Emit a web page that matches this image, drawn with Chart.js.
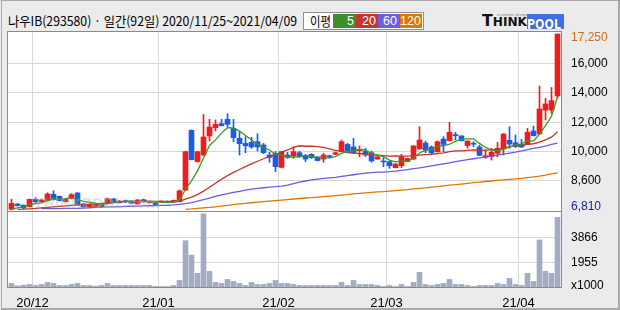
<!DOCTYPE html>
<html><head><meta charset="utf-8">
<script src="https://cdn.jsdelivr.net/npm/chart.js@4.4.1/dist/chart.umd.min.js"></script>
<style>
html,body{margin:0;padding:0;}
body{width:620px;height:310px;overflow:hidden;background:#ebebeb;position:relative;font-family:'Noto Sans CJK KR','Liberation Sans',sans-serif;}
#frame{position:absolute;left:1px;top:0;width:619px;height:310px;box-sizing:border-box;border-style:solid;border-color:#a9a9a9;border-width:1px 2px 2px 1px;pointer-events:none;z-index:5}
#title{position:absolute;left:8px;top:12px;font-size:13px;line-height:17px;color:#000;white-space:nowrap;transform-origin:0 0;}
#legend{position:absolute;left:303px;top:12px;width:121px;height:18px;box-sizing:border-box;border:1px solid #8f8f8f;background:#fff;}
#legend .lbl{position:absolute;left:6px;top:-1px;font-size:13px;line-height:18px;color:#000;white-space:nowrap;transform-origin:0 0;}
#legend .box{position:absolute;top:1px;height:14px;color:#fff;font-family:'Liberation Sans',sans-serif;font-size:12.5px;line-height:15px;text-align:right;box-sizing:border-box;padding-right:3px;}
#logo{position:absolute;left:482px;top:13px;height:16px;white-space:nowrap;font-family:'DejaVu Sans',sans-serif;font-weight:bold;}
#think{display:inline-block;color:#111;font-size:15px;line-height:16px;transform-origin:0 0;vertical-align:top;}
#think small{font-size:11.5px;}
#pool{position:absolute;left:45px;top:1px;width:37px;height:15px;background:#3d70e6;}
#pooltxt{display:inline-block;color:#fff;font-size:14px;line-height:15px;transform-origin:0 0;text-shadow:0 0 1px #123;}
#tiny{position:absolute;left:497px;top:12px;font-size:4px;color:#888;font-family:'Liberation Sans',sans-serif;}
#wm{position:absolute;left:34px;top:196px;font-family:'DejaVu Sans',sans-serif;font-weight:bold;font-size:14px;line-height:15px;color:rgba(175,175,175,0.35);white-space:nowrap;transform-origin:0 0;pointer-events:none;z-index:3}
canvas{position:absolute;left:0;top:0;z-index:2}
</style>
</head>
<body>
<div id="title">나우IB(293580) · 일간(92일) 2020/11/25~2021/04/09</div>
<div id="legend">
  <span class="lbl" id="lgLbl">이평</span>
  <div class="box" id="lg0" style="left:29px;width:24px;background:#3d8e2c;"></div>
  <div class="box" id="lg1" style="left:52px;width:23px;background:#c8342b;"></div>
  <div class="box" id="lg2" style="left:74px;width:22px;background:#6b5ee0;"></div>
  <div class="box" id="lg3" style="left:96px;width:22px;background:#dc7600;"></div>
</div>
<div id="tiny">economic design</div>
<div id="logo"><span id="think">T<small>HINK</small></span><div id="pool"><span id="pooltxt">POOL</span></div></div>
<div id="wm">THINKPOOL.com</div>
<canvas id="c" width="620" height="310"></canvas>
<div id="frame"></div>
<script>
// ---------- data ----------
const dates = [
 '2020/11/25','2020/11/26','2020/11/27','2020/11/30',
 '2020/12/01','2020/12/02','2020/12/03','2020/12/04','2020/12/07','2020/12/08','2020/12/09','2020/12/10','2020/12/11',
 '2020/12/14','2020/12/15','2020/12/16','2020/12/17','2020/12/18','2020/12/21','2020/12/22','2020/12/23','2020/12/24',
 '2020/12/28','2020/12/29','2020/12/30',
 '2021/01/04','2021/01/05','2021/01/06','2021/01/07','2021/01/08','2021/01/11','2021/01/12','2021/01/13','2021/01/14',
 '2021/01/15','2021/01/18','2021/01/19','2021/01/20','2021/01/21','2021/01/22','2021/01/25','2021/01/26','2021/01/27',
 '2021/01/28','2021/01/29',
 '2021/02/01','2021/02/02','2021/02/03','2021/02/04','2021/02/05','2021/02/08','2021/02/09','2021/02/10','2021/02/15',
 '2021/02/16','2021/02/17','2021/02/18','2021/02/19','2021/02/22','2021/02/23','2021/02/24','2021/02/25','2021/02/26',
 '2021/03/02','2021/03/03','2021/03/04','2021/03/05','2021/03/08','2021/03/09','2021/03/10','2021/03/11','2021/03/12',
 '2021/03/15','2021/03/16','2021/03/17','2021/03/18','2021/03/19','2021/03/22','2021/03/23','2021/03/24','2021/03/25',
 '2021/03/26','2021/03/29','2021/03/30','2021/03/31',
 '2021/04/01','2021/04/02','2021/04/05','2021/04/06','2021/04/07','2021/04/08','2021/04/09'
];
const openP = [6850,7160,7100,7000,7440,7300,7360,7740,7620,7300,7480,7820,7170,6990,6970,7010,7210,7460,7240,7330,
 7340,7170,7420,7240,7300,7280,7320,7280,7300,7990,11540,9680,10070,11200,11690,11930,12190,11650,11060,10760,
 10820,10860,10670,10070,10170,9340,10070,10010,10210,10030,10110,9950,9830,10010,10110,10270,10700,10550,10330,10290,
 10210,9830,9690,9680,9320,9440,9680,9830,10430,10780,10550,10270,11020,10920,11260,11200,10630,10740,10550,9940,
 9970,10170,10430,10940,10800,10700,10720,11500,11320,12740,12740,13570];
const highP = [7450,7200,7110,7460,7540,7450,7830,7950,7640,7480,7780,7840,7200,7150,7170,7190,7520,7500,7370,7400,
 7360,7440,7460,7340,7320,7340,7340,7400,7990,10300,11560,10300,12480,12190,12150,12190,12520,12190,11460,11160,
 11120,11340,10760,10230,10270,10300,10230,10560,10290,10110,10150,9970,10170,10070,10250,10960,10760,11060,10610,10470,
 10310,9990,9910,9700,9560,10110,9890,10630,11750,10900,10610,10900,11160,12010,11420,11220,10920,10860,10660,10370,
 10470,10820,11340,11750,11260,11000,11650,11790,14160,13430,14080,17250];
const lowP = [6810,7040,6860,6990,7250,7280,7340,7400,7340,7280,7460,7080,6970,6960,6950,6990,7190,7280,7220,7240,
 7190,7150,7280,7220,7090,7260,7260,7260,7280,7950,9780,9650,10050,10900,11500,11790,11750,10860,10070,10210,
 10470,10310,10150,9640,9080,9300,9870,9870,9930,9680,9870,9720,9640,9890,10090,10250,10290,10150,9970,9980,
 9640,9810,9380,9280,9300,9320,9660,9800,10410,10210,10150,10250,10270,10900,10960,10900,10470,10570,10030,9870,
 9770,9970,10070,10470,10510,10510,10700,11200,11300,12150,12540,13430];
const closeP = [7200,7070,6930,7440,7300,7400,7760,7440,7360,7440,7720,7110,6990,7130,7150,7170,7480,7300,7340,7300,
 7210,7400,7300,7320,7110,7320,7280,7380,7950,10270,9800,10270,11140,11730,11890,11810,11890,11100,10740,10620,
 10550,10550,10210,9930,9380,10270,9930,10270,9970,9830,9910,9740,10070,9970,10210,10860,10310,10210,10410,10070,
 9720,9970,9660,9440,9540,9970,9870,10610,10960,10370,10190,10860,10700,11420,11220,10920,10900,10710,10050,10030,
 10230,10470,11320,10720,10570,10550,11420,11220,12800,13100,13300,17250];
// volume, in thousands of shares
const volume = [347,167,218,270,193,270,424,347,193,193,270,347,193,193,141,193,347,193,193,193,
 193,193,193,193,116,116,116,193,578,3604,2503,1117,5660,1270,424,347,655,500,347,193,
 424,270,270,347,578,347,347,270,193,193,193,193,193,193,193,424,193,578,270,270,
 270,193,116,193,116,270,116,424,1193,270,193,270,347,655,270,270,193,116,193,193,
 193,347,270,732,270,193,1117,500,3658,1270,1117,5378];
const ma5 = [6850,6930,7000,7120,7190,7230,7370,7470,7450,7480,7540,7410,7320,7280,7220,7110,7180,7250,7290,7320,
 7330,7310,7310,7310,7270,7290,7270,7280,7410,8040,8540,9130,9890,10640,10970,11370,11690,11680,11490,11230,
 10980,10710,10530,10370,10120,10070,9940,9960,9960,10050,9980,9940,9900,9900,9980,10170,10280,10310,10400,10370,
 10140,10080,9970,9770,9670,9720,9700,9890,10190,10360,10400,10600,10620,10710,10880,11020,11030,11030,10760,10520,
 10380,10300,10420,10550,10660,10730,10920,10900,11310,11820,12370,13530];
const ma20 = [null,6850,6860,6880,6900,6930,6960,6990,7020,7050,7080,7110,7130,7160,7180,7200,7230,7250,7270,7300,
 7300,7320,7340,7330,7320,7320,7290,7290,7320,7460,7570,7720,7930,8160,8400,8630,8850,9040,9210,9380,
 9540,9700,9850,9980,10090,10240,10370,10520,10620,10590,10600,10570,10520,10430,10350,10300,10220,10180,10160,10130,
 10090,10060,10040,10010,10020,10000,10000,10020,10070,10090,10110,10160,10200,10270,10320,10320,10350,10380,10360,10360,
 10380,10410,10490,10550,10610,10630,10710,10740,10830,10970,11130,11450];
const ma60 = [null,null,null,null,null,6890,6890,6890,6890,6900,6900,6900,6920,6940,6960,6980,6990,7000,7010,7020,
 7030,7040,7050,7060,7070,7080,7090,7110,7140,7190,7250,7330,7420,7510,7610,7700,7780,7860,7920,7990,
 8050,8090,8130,8160,8190,8230,8290,8370,8460,8530,8590,8640,8680,8720,8750,8800,8850,8900,8950,9000,
 9030,9050,9060,9080,9110,9160,9210,9260,9310,9370,9430,9490,9550,9610,9680,9740,9800,9850,9900,9950,
 10000,10060,10120,10180,10240,10310,10390,10460,10530,10600,10700,10770];
const ma120 = [null,null,null,null,null,null,null,null,null,null,null,null,null,null,null,null,null,null,null,null,
 null,null,null,null,null,null,null,null,null,6850,6870,6900,6930,6960,7000,7040,7080,7130,7170,7200,
 7240,7280,7310,7340,7370,7400,7430,7460,7490,7520,7540,7570,7600,7630,7660,7690,7720,7760,7790,7820,
 7850,7880,7900,7930,7960,7990,8020,8060,8090,8120,8160,8200,8240,8280,8310,8350,8390,8430,8460,8500,
 8530,8570,8600,8630,8660,8690,8730,8770,8820,8880,8950,9010];
const maPeriods = ['5','20','60','120'];
const monthLabels = ['20/12','21/01','21/02','21/03','21/04'];
// price axis: grid values and the labels printed beside them
const priceTickValues = [6988,8548,10268,12012,13768,15512,17013];
const priceTickLabels = ['6,810','8,600','10,000','12,000','14,000','16,000','17,250'];
const volTickValues = [175,1955,3866];
const volTickLabels = ['x1000','1955','3866'];

// ---------- styles ----------
const UP = '#f01c1c', DOWN = '#1b5be6', VOLC = '#a3acc3', GRID = '#d7d7d7', FRAME = '#8a8a8a';
const maColors = ['#3a9a22','#c0342a','#6a5be0','#e07400'];
const F = "'Liberation Sans', Arial, sans-serif";

function fitW(el, w){ const r = el.getBoundingClientRect().width; if (r > 0) el.style.transform = 'scaleX(' + (w / r) + ')'; }
maPeriods.forEach((p, k) => { document.getElementById('lg' + k).textContent = p; });
fitW(document.getElementById('title'), 289);
fitW(document.getElementById('lgLbl'), 21);
fitW(document.getElementById('think'), 45);
fitW(document.getElementById('pooltxt'), 34);
fitW(document.getElementById('wm'), 126);

const monthStarts = [];
for (let i = 1; i < dates.length; i++) if (dates[i].slice(0, 7) !== dates[i - 1].slice(0, 7)) monthStarts.push(i);

const candleColor = dates.map((d, i) => closeP[i] >= openP[i] ? UP : DOWN);

const framePlugin = {
  id: 'frame',
  beforeDraw(chart) {
    const {ctx, chartArea: a} = chart;
    ctx.save(); ctx.fillStyle = '#ffffff';
    ctx.fillRect(a.left, a.top, a.right - a.left, a.bottom - a.top); ctx.restore();
  },
  afterDraw(chart) {
    const {ctx, chartArea: a, scales} = chart;
    const mid = scales.y.bottom;
    ctx.save(); ctx.strokeStyle = FRAME; ctx.lineWidth = 1;
    ctx.strokeRect(a.left + 0.5, a.top - 0.5, a.right - a.left - 1, mid - a.top);
    ctx.strokeRect(a.left + 0.5, mid - 0.5, a.right - a.left - 1, a.bottom - mid);
    ctx.restore();
  }
};

const maSets = [ma5, ma20, ma60, ma120].map((arr, k) => ({
  type: 'line', label: 'MA' + maPeriods[k], yAxisID: 'y', order: 0,
  data: arr.map((v, i) => ({x: i, y: v})),
  borderColor: maColors[k], borderWidth: 1.3, pointRadius: 0, tension: 0, spanGaps: false
}));

new Chart(document.getElementById('c'), {
  type: 'bar',
  data: {
    datasets: [
      ...maSets,
      { label: 'body', yAxisID: 'y', order: 2, grouped: false, barThickness: 5, minBarLength: 1,
        data: dates.map((d, i) => ({x: i, y: [openP[i], closeP[i]]})), backgroundColor: candleColor },
      { label: 'wick', yAxisID: 'y', order: 3, grouped: false, barThickness: 1, minBarLength: 1,
        data: dates.map((d, i) => ({x: i, y: [lowP[i], highP[i]]})), backgroundColor: candleColor },
      { label: 'volume', yAxisID: 'yv', order: 2, grouped: false, barThickness: 5,
        data: dates.map((d, i) => ({x: i, y: volume[i]})), backgroundColor: VOLC }
    ]
  },
  options: {
    responsive: false, animation: false, devicePixelRatio: 1, events: [],
    layout: { padding: { left: 7, top: 32, right: 0, bottom: 0 } },
    plugins: { legend: { display: false }, tooltip: { enabled: false } },
    scales: {
      x: {
        type: 'linear', min: -0.75, max: 91.75, offset: false,
        afterBuildTicks: s => { s.ticks = monthStarts.map(i => ({value: i - 0.5})); },
        afterFit: s => { s.height = 22; },
        grid: { offset: false, color: GRID, drawTicks: false },
        border: { display: false },
        ticks: { autoSkip: false, maxRotation: 0, padding: 8, color: '#000', font: { family: F, size: 13 },
          callback: (v, i) => monthLabels[i] }
      },
      y: {
        type: 'linear', position: 'right', stack: 'panels', stackWeight: 180, min: 6690, max: 17370,
        afterBuildTicks: s => { s.ticks = priceTickValues.map(v => ({value: v})); },
        afterFit: s => { s.width = 58; },
        grid: { drawTicks: false, color: c => (c.index === 0 || c.index === priceTickValues.length - 1) ? 'rgba(0,0,0,0)' : GRID },
        border: { display: false },
        ticks: { autoSkip: false, padding: 9, font: { family: F, size: 12 },
          color: c => c.index === 0 ? '#1818b8' : (c.index === priceTickValues.length - 1 ? '#d0701c' : '#000'),
          callback: (v, i) => priceTickLabels[i] }
      },
      yv: {
        type: 'linear', position: 'right', stack: 'panels', stackWeight: 76, min: 0, max: 5790,
        afterBuildTicks: s => { s.ticks = volTickValues.map(v => ({value: v})); },
        afterFit: s => { s.width = 58; },
        grid: { drawTicks: false, color: c => c.index === 0 ? 'rgba(0,0,0,0)' : GRID },
        border: { display: false },
        ticks: { autoSkip: false, padding: 9, color: '#000', font: { family: F, size: 12 }, callback: (v, i) => volTickLabels[i] }
      }
    }
  },
  plugins: [framePlugin]
});
</script>
</body></html>
